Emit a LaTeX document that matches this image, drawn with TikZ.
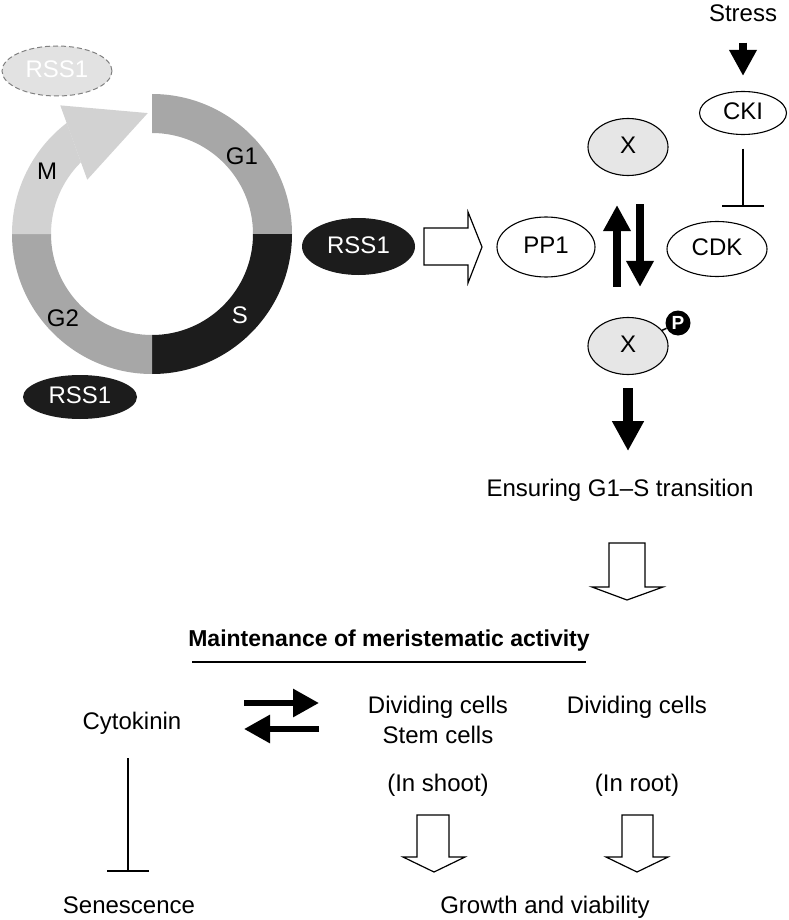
\documentclass[tikz,border=0pt]{standalone}
\usepackage{fontspec}
\setmainfont{Liberation Sans}
\usetikzlibrary{arrows.meta,shapes.geometric,calc}

\definecolor{phaseG}{HTML}{A7A7A7}
\definecolor{phaseM}{HTML}{D2D2D2}
\definecolor{phaseS}{HTML}{1C1C1C}
\definecolor{xfill}{HTML}{E6E6E6}
\definecolor{ghost}{HTML}{E2E2E2}

\begin{document}
\begin{tikzpicture}[
        x=1pt, y=-1pt,
        every node/.style={font=\fontsize{24}{28}\selectfont, inner sep=0pt,
            text height=17pt, text depth=4pt},
        ell/.style={ellipse, draw=black, line width=1.1pt, fill=white},
        dark/.style={ellipse, fill=phaseS, text=white},
        fat/.style={line width=8pt, -{Triangle[length=26pt,width=26pt]}},
        fatter/.style={line width=10pt, -{Triangle[length=30pt,width=30pt]}},
        swap arrow/.style={line width=6pt, -{Triangle[length=26pt,width=27pt]}},
        inhib/.style={line width=2.5pt, -{Bar[width=42pt]}},
        hollow/.style={draw=black, fill=white, line width=1.2pt, line join=miter},
    ]
    \useasboundingbox (0,0) rectangle (788,920);

    % cell cycle ring
    \begin{scope}[shift={(152,234)}, yscale=-1]
        \fill[phaseG] (90:140) arc[start angle=90, end angle=0, radius=140]
            -- (0:101) arc[start angle=0, end angle=90, radius=101] -- cycle;
        \fill[phaseS] (0:140) arc[start angle=0, end angle=-90, radius=140]
            -- (-90:101) arc[start angle=-90, end angle=0, radius=101] -- cycle;
        \fill[phaseG] (-90:140) arc[start angle=-90, end angle=-180, radius=140]
            -- (180:101) arc[start angle=180, end angle=270, radius=101] -- cycle;
        \fill[phaseM] (180:140) arc[start angle=180, end angle=127.5, radius=140]
            -- (134.7:101) arc[start angle=134.7, end angle=180, radius=101] -- cycle;
        \fill[phaseM] (140:84.5) -- (92:121) -- (125.5:158) -- cycle;
    \end{scope}

    \node at (242,158) {G1};
    \node at (47,173) {M};
    \node at (63,320) {G2};
    \node[text=white] at (240,317) {S};

    \node[ellipse, fill=ghost, draw=gray, dash pattern=on 5pt off 3pt, line width=1pt,
        text=white, minimum width=110pt, minimum height=50pt] (rssGhost) at (57,71) {RSS1};
    \node[dark, minimum width=114pt, minimum height=44pt] (rssLow) at (80,397) {RSS1};
    \node[dark, minimum width=113pt, minimum height=57pt] (rssMid) at (358.5,246.5) {RSS1};

    \draw[hollow] (424,228) -- (468,228) -- (468,212) -- (482,247) -- (468,283)
        -- (468,265) -- (424,265) -- cycle;

    % phosphorylation switch
    \node[ell, minimum width=98pt, minimum height=60pt] (pp1) at (546,247) {PP1};
    \node[ell, fill=xfill, minimum width=80pt, minimum height=57pt] (xtop) at (628,147) {X};
    \node[ell, fill=xfill, minimum width=80pt, minimum height=57pt] (xp) at (628,346) {X};
    \node[circle, fill=black, text=white, minimum size=25pt, text height=, text depth=,
        font=\bfseries\fontsize{19}{19}\selectfont] (phos) at (678,323) {P};
    \draw[line width=1.5pt] (xp) -- (phos);
    \node[ell, minimum width=100pt, minimum height=55pt] (cdk) at (717,249) {CDK};
    \node[ell, minimum width=87pt, minimum height=43pt] (cki) at (743,113) {CKI};
    \node (stress) at (743,15) {Stress};

    \draw[fat] ($(stress.south)+(0,17)$) -- ($(cki.north)+(0,-15)$);
    \draw[inhib] ($(cki.south)+(0,13.5)$) -- ($(cki.south)+(0,72)$);
    \draw[fat] ($(xp.north)+(-11,-30)$) -- ($(xtop.south)+(-11,29)$);
    \draw[fat] ($(xtop.south)+(12,28)$) -- ($(xp.north)+(12,-30)$);

    \node (ensure) at (620,490) {Ensuring G1--S transition};
    \draw[fatter] ($(xp.south)+(0,13)$) -- ($(xp.south)+(0,76)$);

    \draw[hollow] (609,543) -- (645,543) -- (645,587) -- (663,587) -- (627,600)
        -- (592,587) -- (609,587) -- cycle;

    % meristem part
    \node[font=\bfseries\fontsize{23}{27}\selectfont] (maint) at (389,640)
        {Maintenance of meristematic activity};
    \draw[line width=1.2pt] (192,662) -- (586,662);

    \node (cyto) at (132,723) {Cytokinin};
    \node (senes) at (129,907) {Senescence};
    \draw[inhib] (128,758) -- (128,872);

    \coordinate (swapL) at (244,703);
    \coordinate (swapR) at (319,703);
    \draw[swap arrow] (swapL) -- (swapR);
    \draw[swap arrow] ($(swapR)+(0,26)$) -- ($(swapL)+(0,26)$);

    \node (divA) at (438,707) {Dividing cells};
    \node (stem) at (438,737) {Stem cells};
    \node (shoot) at (438,785) {(In shoot)};
    \node (divB) at (637,707) {Dividing cells};
    \node (root) at (637,785) {(In root)};

    \draw[hollow] (417,815) -- (449,815) -- (449,857) -- (465,857) -- (434,872)
        -- (403,857) -- (417,857) -- cycle;
    \draw[hollow] (622,815) -- (653,815) -- (653,857) -- (668,857) -- (637,872)
        -- (606,857) -- (622,857) -- cycle;

    \node (growth) at (545,907) {Growth and viability};

\end{tikzpicture}
\end{document}
